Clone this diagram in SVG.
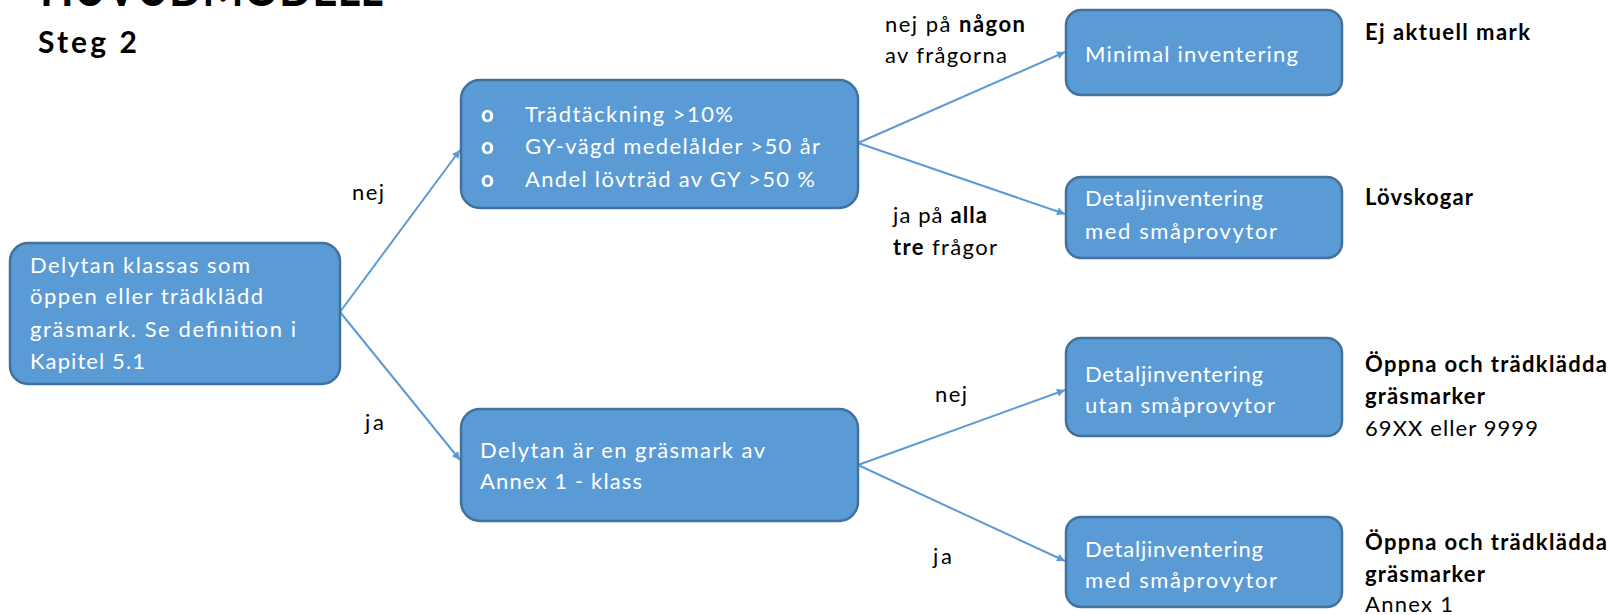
<svg xmlns="http://www.w3.org/2000/svg" width="1613" height="615" viewBox="0 0 1613 615">
  <defs>
    <marker id="arrow" markerUnits="userSpaceOnUse" viewBox="0 0 10 10" refX="10" refY="5" markerWidth="10" markerHeight="8" orient="auto">
      <path d="M0,0 L10,5 L0,10 z" fill="#5B9BD5"/>
    </marker>
    <style>
      .box { fill: #5B9BD5; stroke: #41719C; stroke-width: 2.5; }
      .bt { font-family: Lato, "Liberation Sans", sans-serif; font-size: 22px; fill: #ffffff; }
      .lb { font-family: Lato, "Liberation Sans", sans-serif; font-size: 22px; fill: #000000; }
      .b { font-weight: bold; }
      .h1 { font-size: 50px; }
      .h2 { font-size: 30px; }
      .conn { stroke: #5B9BD5; stroke-width: 2; fill: none; marker-end: url(#arrow); }
    </style>
  </defs>

  <rect width="1613" height="615" fill="#ffffff"/>

  <!-- page heading (partly above the top edge) and step title -->
  <g id="heading">
    <text class="lb b h1" x="40" y="6" textLength="343" lengthAdjust="spacingAndGlyphs">HUVUDMODELL</text>
    <text class="lb b h2" x="38" y="53" textLength="99">Steg 2</text>
  </g>

  <!-- connectors -->
  <g id="connectors">
    <line class="conn" x1="340" y1="312" x2="460" y2="150"/>
    <line class="conn" x1="340" y1="312" x2="460" y2="460"/>
    <line class="conn" x1="858" y1="143" x2="1065" y2="52"/>
    <line class="conn" x1="858" y1="143" x2="1065" y2="214"/>
    <line class="conn" x1="858" y1="465" x2="1065" y2="390"/>
    <line class="conn" x1="858" y1="465" x2="1065" y2="561"/>
  </g>

  <!-- connector labels -->
  <g id="labels">
    <text class="lb" x="352" y="200" textLength="32">nej</text>
    <text class="lb" x="365" y="430" textLength="19">ja</text>
    <text class="lb" x="885" y="32" textLength="140">nej på <tspan class="b">någon</tspan></text>
    <text class="lb" x="885" y="63" textLength="122">av frågorna</text>
    <text class="lb" x="893" y="223" textLength="94">ja på <tspan class="b">alla</tspan></text>
    <text class="lb" x="893" y="255" textLength="104"><tspan class="b">tre</tspan> frågor</text>
    <text class="lb" x="935" y="402" textLength="32">nej</text>
    <text class="lb" x="933" y="564" textLength="19">ja</text>
  </g>

  <!-- start node -->
  <g id="node-start">
    <rect class="box" x="10" y="243" width="330" height="141" rx="18"/>
    <text class="bt" x="30" y="273" textLength="220">Delytan klassas som</text>
    <text class="bt" x="30" y="304" textLength="233">öppen eller trädklädd</text>
    <text class="bt" x="30" y="337" textLength="266">gräsmark. Se definition i</text>
    <text class="bt" x="30" y="369" textLength="115">Kapitel 5.1</text>
  </g>

  <!-- criteria node -->
  <g id="node-criteria">
    <rect class="box" x="461" y="80" width="397" height="128" rx="19"/>
    <text class="bt b" x="481" y="122">o</text>
    <text class="bt b" x="481" y="154">o</text>
    <text class="bt b" x="481" y="187">o</text>
    <text class="bt" x="525" y="122" textLength="208">Trädtäckning  &gt;10%</text>
    <text class="bt" x="525" y="154" textLength="295">GY-vägd medelålder  &gt;50 år</text>
    <text class="bt" x="525" y="187" textLength="290">Andel lövträd av GY &gt;50 %</text>
  </g>

  <!-- annex node -->
  <g id="node-annex">
    <rect class="box" x="461" y="409" width="397" height="112" rx="19"/>
    <text class="bt" x="480" y="458" textLength="285">Delytan är en gräsmark av</text>
    <text class="bt" x="480" y="489" textLength="162">Annex 1 - klass</text>
  </g>

  <!-- outcome nodes -->
  <g id="node-minimal">
    <rect class="box" x="1066" y="10" width="276" height="85" rx="15"/>
    <text class="bt" x="1085" y="62" textLength="213">Minimal inventering</text>
  </g>

  <g id="node-detail-1">
    <rect class="box" x="1066" y="177" width="276" height="81" rx="15"/>
    <text class="bt" x="1085" y="206" textLength="178">Detaljinventering</text>
    <text class="bt" x="1085" y="239" textLength="192">med småprovytor</text>
  </g>

  <g id="node-detail-2">
    <rect class="box" x="1066" y="338" width="276" height="98" rx="15"/>
    <text class="bt" x="1085" y="382" textLength="178">Detaljinventering</text>
    <text class="bt" x="1085" y="413" textLength="190">utan småprovytor</text>
  </g>

  <g id="node-detail-3">
    <rect class="box" x="1066" y="517" width="276" height="90" rx="15"/>
    <text class="bt" x="1085" y="557" textLength="178">Detaljinventering</text>
    <text class="bt" x="1085" y="588" textLength="192">med småprovytor</text>
  </g>

  <!-- outcome descriptions -->
  <g id="outcomes">
    <text class="lb b" x="1365" y="40" textLength="165">Ej aktuell mark</text>
    <text class="lb b" x="1365" y="205" textLength="108">Lövskogar</text>
    <text class="lb b" x="1365" y="372" textLength="242">Öppna och trädklädda</text>
    <text class="lb b" x="1365" y="404" textLength="120">gräsmarker</text>
    <text class="lb" x="1365" y="436" textLength="173">69XX eller 9999</text>
    <text class="lb b" x="1365" y="550" textLength="242">Öppna och trädklädda</text>
    <text class="lb b" x="1365" y="582" textLength="120">gräsmarker</text>
    <text class="lb" x="1365" y="612" textLength="88">Annex 1</text>
  </g>
</svg>
